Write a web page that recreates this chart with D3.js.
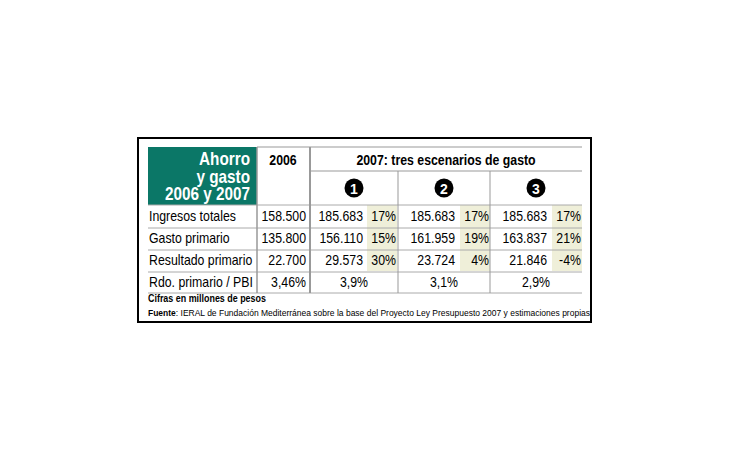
<!DOCTYPE html><html><head><meta charset="utf-8"><script src="https://cdn.jsdelivr.net/npm/d3@7"></script>
<style>body{margin:0;background:#fff}</style></head><body><svg width="730" height="460"></svg><script>
const rows=["Ingresos totales","Gasto primario","Resultado primario","Rdo. primario / PBI"];
const v2006=["158.500","135.800","22.700","3,46%"];
const s1=["185.683","156.110","29.573","3,9%"], p1=["17%","15%","30%",""];
const s2=["185.683","161.959","23.724","3,1%"], p2=["17%","19%","4%",""];
const s3=["185.683","163.837","21.846","2,9%"], p3=["17%","21%","-4%",""];
const scen=["1","2","3"];
const svg=d3.select("svg"), F="Liberation Sans, Arial, sans-serif";
svg.append("rect").attr("x",138).attr("y",138).attr("width",453).attr("height",184).attr("fill","#fff").attr("stroke","#000").attr("stroke-width",2);
const y=d3.scaleBand().domain(d3.range(4)).range([205,293]);
[[367,p1],[460,p2],[552,p3]].forEach(([x,p])=>p.forEach((t,i)=>{if(t)svg.append("rect").attr("x",x).attr("y",y(i)).attr("width",30).attr("height",y.bandwidth()).attr("fill","#efefd9");}));
svg.append("rect").attr("x",148).attr("y",147).attr("width",109).attr("height",58).attr("fill","#0b7767");
const ln=(x1,y1,x2,y2,c,w)=>svg.append("line").attr("x1",x1).attr("y1",y1).attr("x2",x2).attr("y2",y2).attr("stroke",c).attr("stroke-width",w||1);
ln(257,147,582,147,"#999");ln(310,171,582,171,"#999");
[205,228,250,272,293].forEach(yy=>ln(148,yy,582,yy,"#aaa"));
ln(257,147,257,293,"#999",1.5);ln(310,147,310,293,"#999",2);
ln(398,171,398,293,"#999");ln(490,171,490,293,"#999");
const txt=(x,yy,t,a,o)=>{o=o||{};return svg.append("text").attr("transform",`translate(${x},${yy}) scale(${o.sx||0.88},1)`).attr("text-anchor",a||"middle").attr("font-family",F).attr("font-size",o.fs||14).attr("font-weight",o.fw||"normal").attr("fill",o.fill||"#000").text(t);};
["Ahorro","y gasto","2006 y 2007"].forEach((t,i)=>txt(250,165+i*17.5,t,"end",{fw:"bold",fs:18,fill:"#fff",sx:0.85}));
txt(283,165,"2006","middle",{fw:"bold"});
txt(446,165,"2007: tres escenarios de gasto","middle",{fw:"bold"});
scen.forEach((s,i)=>{const c=[354,444,536][i];svg.append("circle").attr("cx",c).attr("cy",188).attr("r",9.5).attr("fill","#000");txt(c,193.5,s,"middle",{fw:"bold",fill:"#fff",fs:14,sx:1});});
rows.forEach((r,i)=>{const yy=y(i)+y.bandwidth()/2+5;
txt(149,yy,r,"start");txt(306,yy,v2006[i],"end");
if(i<3){txt(363,yy,s1[i],"end");txt(455,yy,s2[i],"end");txt(547,yy,s3[i],"end");
txt(396,yy,p1[i],"end");txt(489,yy,p2[i],"end");txt(581,yy,p3[i],"end");}
else{txt(354,yy,s1[i]);txt(444,yy,s2[i]);txt(536,yy,s3[i]);}});
txt(148,302,"Cifras en millones de pesos","start",{fw:"bold",fs:10.5,sx:0.85});
const ft=svg.append("text").attr("x",148).attr("y",316).attr("font-family",F).attr("font-size",9.5).attr("textLength",442).attr("lengthAdjust","spacingAndGlyphs");
ft.append("tspan").attr("font-weight","bold").text("Fuente");
ft.append("tspan").text(": IERAL de Fundación Mediterránea sobre la base del Proyecto Ley Presupuesto 2007 y estimaciones propias");
</script></body></html>
